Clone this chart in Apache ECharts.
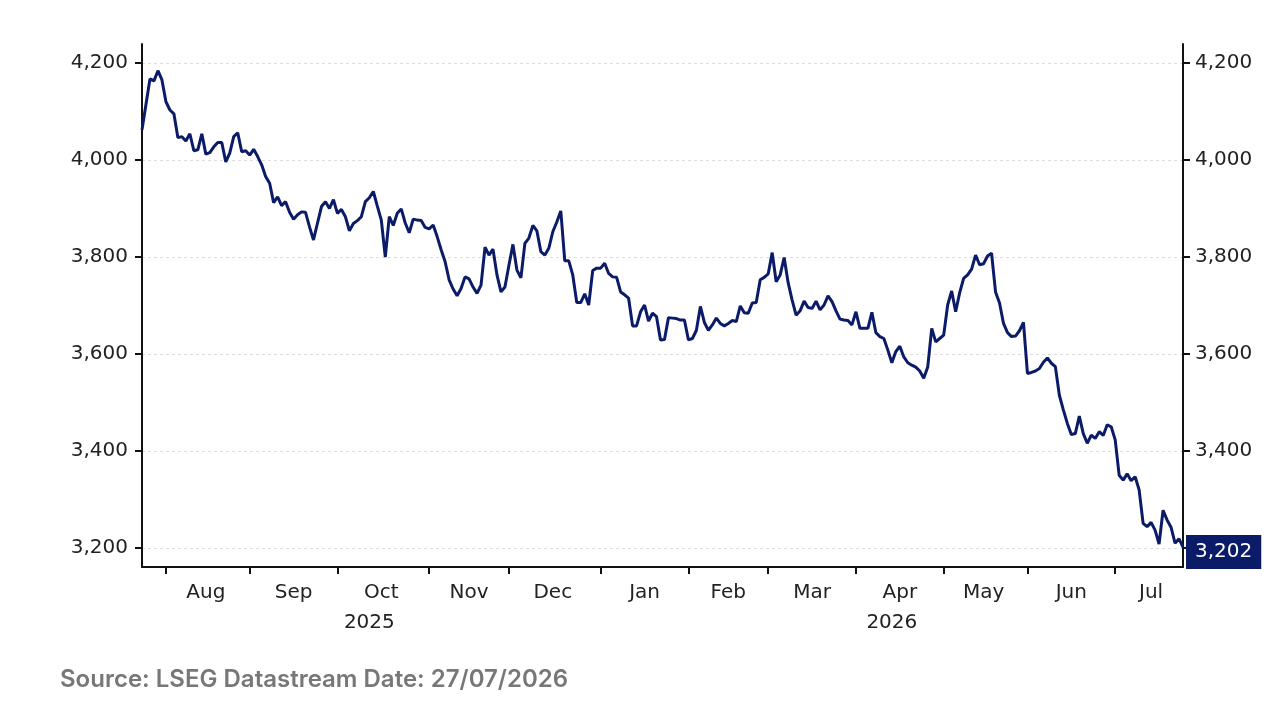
<!DOCTYPE html>
<html lang="en" style="height: 100%">

<head>
  <meta charset="utf-8" />
</head>

<body style="height: 100%; margin: 0; background: #ffffff">
  <div id="container" style="width: 1278px; height: 703px"></div>

  <script type="text/javascript" src="https://cdn.jsdelivr.net/npm/echarts@6/dist/echarts.min.js"></script>

  <script type="text/javascript">
    // business-day axis, first and last trading day shown
    var firstDay = "2025-07-24";
    var lastDay = "2026-07-24";

    var monthNames = ["Jan", "Feb", "Mar", "Apr", "May", "Jun", "Jul", "Aug", "Sep", "Oct", "Nov", "Dec"];
    var yTicks = [3200, 3400, 3600, 3800, 4000, 4200];
    var sourceText = "Source: LSEG Datastream Date: 27/07/2026";

    // one value per business day
    var jul25 = [4062, 4115, 4167, 4163, 4184, 4165];
    var aug25 = [4120, 4103, 4095, 4046, 4048, 4039, 4054, 4019, 4021, 4054, 4012,
      4015, 4027, 4036, 4036, 3996, 4014, 4048, 4056, 4017, 4019];
    var sep25 = [4010, 4022, 4007, 3990, 3966, 3952, 3912, 3924, 3906, 3914, 3892,
      3878, 3887, 3893, 3892, 3862, 3835, 3870, 3904, 3914, 3900, 3918];
    var oct25 = [3890, 3898, 3883, 3854, 3869, 3875, 3883, 3914, 3922, 3935, 3905, 3876,
      3800, 3883, 3865, 3890, 3899, 3870, 3850, 3878, 3876, 3875, 3861];
    var nov25 = [3858, 3866, 3842, 3815, 3790, 3753, 3734, 3720, 3735, 3759,
      3755, 3738, 3725, 3742, 3820, 3804, 3816, 3763, 3728, 3738];
    var dec25 = [3783, 3826, 3773, 3757, 3828, 3839, 3865, 3854, 3811, 3804, 3818, 3852,
      3872, 3895, 3792, 3792, 3763, 3706, 3706, 3724, 3701, 3772, 3777];
    var jan26 = [3777, 3787, 3766, 3759, 3758, 3728, 3722, 3715, 3658, 3658, 3687,
      3701, 3668, 3684, 3677, 3629, 3630, 3675, 3674, 3673, 3670, 3670];
    var feb26 = [3629, 3632, 3649, 3698, 3665, 3649, 3660, 3674, 3663, 3658,
      3663, 3669, 3667, 3699, 3685, 3684, 3705, 3706, 3753, 3758];
    var mar26 = [3765, 3809, 3749, 3763, 3799, 3747, 3711, 3680, 3689, 3709, 3696,
      3694, 3709, 3691, 3701, 3720, 3708, 3689, 3672, 3670, 3669, 3660];
    var apr26 = [3687, 3653, 3653, 3653, 3686, 3644, 3636, 3632, 3608, 3582, 3605,
      3616, 3594, 3582, 3577, 3573, 3565, 3550, 3573, 3653, 3625, 3632];
    var may26 = [3639, 3701, 3730, 3687, 3726, 3756, 3763, 3775, 3804, 3784, 3786,
      3802, 3808, 3728, 3705, 3663, 3644, 3636, 3637, 3648, 3665];
    var jun26 = [3560, 3562, 3565, 3570, 3583, 3592, 3581, 3574, 3515, 3485, 3457,
      3434, 3436, 3472, 3436, 3416, 3433, 3426, 3440, 3432, 3454, 3450];
    var jul26 = [3423, 3350, 3340, 3353, 3339, 3347, 3320, 3251, 3244, 3253, 3237,
      3208, 3278, 3258, 3243, 3210, 3219, 3202];

    var values = [].concat(jul25, aug25, sep25, oct25, nov25, dec25, jan26,
      feb26, mar26, apr26, may26, jun26, jul26);

    // weekday categories
    var days = [];
    var d = new Date(firstDay + "T00:00:00Z");
    var stop = new Date(lastDay + "T00:00:00Z");
    while (d <= stop) {
      var wd = d.getUTCDay();
      if (wd !== 0 && wd !== 6) days.push(d.toISOString().slice(0, 10));
      d.setUTCDate(d.getUTCDate() + 1);
    }

    // month starts (ticks), mid-month (labels), mid-year (year labels)
    var monthStart = {};
    var monthLabelAt = {};
    var yearLabelAt = {};
    var runStart = 0;
    for (var i = 1; i <= days.length; i++) {
      if (i === days.length || days[i].slice(0, 7) !== days[i - 1].slice(0, 7)) {
        if (runStart > 0) monthLabelAt[runStart + Math.floor((i - runStart) / 2)] = true;
        if (i < days.length) monthStart[i] = true;
        runStart = i;
      }
    }
    runStart = 0;
    for (var j = 1; j <= days.length; j++) {
      if (j === days.length || days[j].slice(0, 4) !== days[j - 1].slice(0, 4)) {
        yearLabelAt[runStart + Math.floor((j - runStart) / 2)] = true;
        runStart = j;
      }
    }

    function fmtThousands(v) {
      var s = String(Math.round(v));
      return s.replace(/\B(?=(\d{3})+(?!\d))/g, ",");
    }

    var axisFont = "DejaVu Sans";
    var navy = "#0b1b68";

    var dom = document.getElementById("container");
    var myChart = echarts.init(dom, null, { renderer: "canvas" });

    var option = {
      animation: false,
      backgroundColor: "#ffffff",
      grid: {
        left: 142,
        right: 95,
        top: 44,
        bottom: 136,
        containLabel: false,
        outerBoundsMode: "none",
      },
      xAxis: [
        {
          type: "category",
          data: days,
          boundaryGap: false,
          axisLine: { show: true, onZero: false, lineStyle: { color: "#111111", width: 2 } },
          axisTick: {
            show: true,
            length: 7,
            interval: function (index) { return !!monthStart[index]; },
            lineStyle: { color: "#111111", width: 2 },
          },
          axisLabel: {
            interval: function (index) { return !!monthLabelAt[index]; },
            formatter: function (value) { return monthNames[parseInt(value.slice(5, 7), 10) - 1]; },
            color: "#222222",
            fontSize: 20,
            fontFamily: axisFont,
            margin: 16,
          },
          splitLine: { show: false },
        },
        {
          type: "category",
          data: days,
          boundaryGap: false,
          position: "bottom",
          offset: 30,
          axisLine: { show: false },
          axisTick: { show: false },
          axisLabel: {
            interval: function (index) { return !!yearLabelAt[index]; },
            formatter: function (value) { return value.slice(0, 4); },
            color: "#222222",
            fontSize: 20,
            fontFamily: axisFont,
            margin: 16,
          },
          splitLine: { show: false },
        },
      ],
      yAxis: [
        {
          type: "value",
          position: "left",
          min: 3161,
          max: 4239,
          axisLine: { show: true, lineStyle: { color: "#111111", width: 2 } },
          axisTick: { show: true, length: 7, customValues: yTicks, lineStyle: { color: "#111111", width: 2 } },
          axisLabel: {
            customValues: yTicks,
            formatter: fmtThousands,
            color: "#222222",
            fontSize: 20,
            fontFamily: axisFont,
            margin: 14,
            padding: [3, 0, 0, 0],
          },
          splitLine: { show: true, lineStyle: { color: "#dcdcdc", width: 1, type: [3, 3] } },
        },
        {
          type: "value",
          position: "right",
          min: 3161,
          max: 4239,
          axisLine: { show: true, lineStyle: { color: "#111111", width: 2 } },
          axisTick: { show: true, length: 7, customValues: yTicks, lineStyle: { color: "#111111", width: 2 } },
          axisLabel: {
            customValues: yTicks,
            formatter: function (v) { return v === 3200 ? "" : fmtThousands(v); },
            color: "#222222",
            fontSize: 20,
            fontFamily: axisFont,
            margin: 12,
            padding: [3, 0, 0, 0],
          },
          splitLine: { show: false },
        },
      ],
      series: [
        {
          name: "Index",
          type: "line",
          data: values,
          showSymbol: false,
          symbol: "none",
          lineStyle: { color: navy, width: 3 },
          itemStyle: { color: navy },
          endLabel: {
            show: true,
            formatter: function (p) { return fmtThousands(p.value); },
            color: "#ffffff",
            backgroundColor: navy,
            fontSize: 20,
            fontFamily: axisFont,
            padding: [7, 9, 7, 9],
            distance: 3,
            offset: [0, 5],
          },
        },
      ],
      graphic: [
        {
          type: "text",
          left: 60,
          top: 668,
          style: {
            text: sourceText,
            fill: "#777777",
            font: "600 24px Inter",
          },
        },
      ],
    };

    myChart.setOption(option);
    window.addEventListener("resize", myChart.resize);
  </script>
</body>

</html>
